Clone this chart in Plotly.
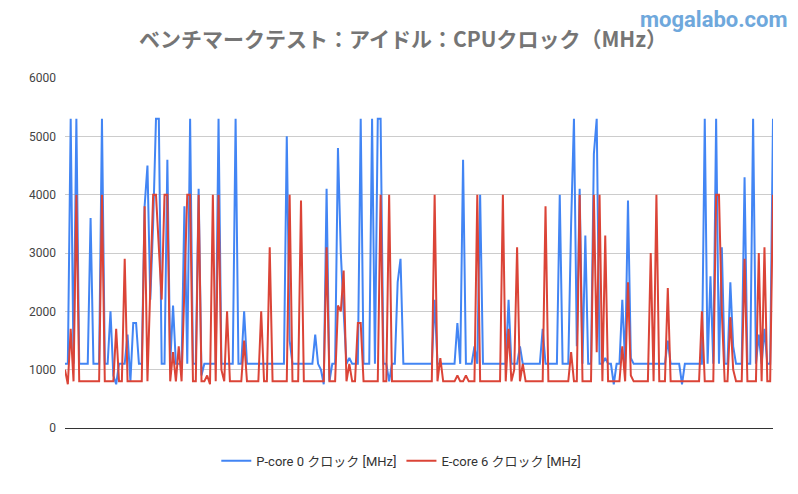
import plotly.graph_objects as go

# sample index (x axis, no labels)
samples = list(range(250))

p_core0 = [
    1100, 1100, 5300, 1100, 5300, 1100, 1100, 1100, 1100, 3600,
    1100, 1100, 1100, 5300, 1100, 1100, 2000, 900, 750, 1100,
    1100, 1100, 1600, 800, 1800, 1800, 1100, 1100, 3800, 4500,
    2200, 3500, 5300, 5300, 1100, 1100, 4600, 1100, 2100, 1100,
    1100, 1100, 3800, 1100, 5300, 1100, 1100, 4100, 900, 1100,
    1100, 1100, 1100, 1100, 5300, 1100, 1100, 1100, 1100, 1100,
    5300, 1100, 1100, 2000, 1100, 1100, 1100, 1100, 1100, 1100,
    1100, 1100, 1100, 1100, 1100, 1100, 1100, 1100, 5000, 1500,
    1100, 1100, 1100, 1100, 1100, 1100, 1100, 1100, 1600, 1100,
    1000, 750, 4100, 800, 1100, 1100, 4800, 3000, 2000, 1100,
    1200, 1100, 1100, 1100, 5300, 1100, 1100, 1100, 5300, 1100,
    5300, 5300, 1100, 1100, 800, 1100, 1100, 2500, 2900, 1100,
    1100, 1100, 1100, 1100, 1100, 1100, 1100, 1100, 1100, 1100,
    2200, 1100, 1100, 1100, 1100, 1100, 1100, 1100, 1800, 1100,
    4600, 1100, 1100, 1100, 1400, 1100, 4000, 1100, 1100, 1100,
    1100, 1100, 1100, 1100, 1100, 1100, 2200, 1100, 1100, 1100,
    1400, 1100, 1100, 1100, 1100, 1100, 1100, 1100, 1700, 1100,
    1100, 1100, 1100, 1100, 4000, 1100, 1100, 1100, 3500, 5300,
    1400, 4100, 1100, 3300, 1100, 1100, 4700, 5300, 1100, 1100,
    1200, 1100, 1100, 750, 1100, 1100, 2200, 1100, 3900, 1200,
    1100, 1100, 1100, 1100, 1100, 1100, 1100, 1100, 1100, 1100,
    1100, 1100, 1500, 1100, 1100, 1100, 1100, 750, 1100, 1100,
    1100, 1100, 1100, 1100, 1100, 5300, 1100, 2600, 1100, 5300,
    1100, 3100, 1100, 1100, 2500, 1400, 1100, 1100, 1100, 4300,
    1100, 1100, 5300, 1100, 1600, 1100, 1700, 1100, 1100, 5300,
]

e_core6 = [
    1000, 750, 1700, 800, 4000, 800, 800, 800, 800, 800,
    800, 800, 800, 4000, 800, 800, 800, 800, 1700, 800,
    800, 2900, 800, 800, 800, 800, 800, 800, 3800, 800,
    2400, 4000, 4000, 3000, 2200, 4000, 4000, 800, 1300, 800,
    1400, 800, 2400, 4000, 4000, 800, 800, 4000, 800, 800,
    900, 750, 4000, 800, 4000, 1000, 800, 2000, 800, 800,
    800, 800, 800, 1500, 800, 800, 800, 800, 800, 2000,
    800, 800, 3100, 800, 800, 800, 800, 800, 800, 4000,
    800, 800, 800, 3900, 800, 800, 800, 800, 800, 800,
    800, 800, 3100, 800, 800, 800, 2100, 2000, 2700, 800,
    1100, 800, 800, 1800, 1800, 800, 800, 800, 800, 800,
    800, 4000, 800, 800, 4000, 800, 800, 800, 800, 800,
    800, 800, 800, 800, 800, 800, 800, 800, 800, 800,
    4000, 800, 1200, 800, 800, 800, 800, 800, 900, 800,
    800, 900, 800, 800, 800, 4000, 800, 800, 800, 800,
    800, 800, 800, 800, 4000, 800, 1700, 800, 1000, 3100,
    800, 1100, 800, 800, 800, 800, 800, 800, 800, 3800,
    800, 800, 800, 800, 800, 800, 800, 800, 1300, 800,
    800, 4000, 800, 800, 800, 800, 4000, 1300, 4000, 800,
    3300, 800, 800, 800, 800, 800, 1400, 800, 2500, 900,
    800, 800, 800, 800, 800, 800, 3000, 800, 4000, 800,
    800, 800, 2400, 800, 800, 800, 800, 800, 800, 800,
    800, 800, 800, 800, 2000, 800, 800, 800, 800, 4000,
    4000, 2000, 800, 800, 1900, 1000, 800, 800, 800, 2900,
    800, 800, 800, 800, 3000, 800, 3100, 800, 800, 4000,
]

series_names = ["P-core 0 クロック [MHz]", "E-core 6 クロック [MHz]"]
y_ticks = [0, 1000, 2000, 3000, 4000, 5000, 6000]
title_text = "ベンチマークテスト：アイドル：CPUクロック（MHz）"

fig = go.Figure()
fig.add_trace(go.Scatter(x=samples, y=p_core0, mode="lines", name=series_names[0],
                         line=dict(color="#4285F4", width=2)))
fig.add_trace(go.Scatter(x=samples, y=e_core6, mode="lines", name=series_names[1],
                         line=dict(color="#DB4437", width=2)))

# page body has an 8px margin; figure is sized so the plot lands where the reference has it
fig.update_layout(
    width=790, height=486,
    margin=dict(l=57, r=25, t=70, b=66),
    paper_bgcolor="white", plot_bgcolor="white",
    font=dict(family="Roboto, 'Noto Sans CJK JP', sans-serif", size=12, color="#444444"),
    title=dict(text="<b>" + title_text + "</b>", x=0.5, xanchor="center", y=0.935, yanchor="middle",
               font=dict(family="'Noto Sans CJK JP', sans-serif", size=21, color="#757575")),
    showlegend=True,
    legend=dict(orientation="h", x=0.475, xanchor="center", y=-0.094, yanchor="middle",
                font=dict(size=13, color="#333333"), itemwidth=30),
    xaxis=dict(range=[0, len(samples) - 1], showticklabels=False, showgrid=False,
               zeroline=False, showline=True, linecolor="#333333", linewidth=1, ticks="",
               automargin=False),
    yaxis=dict(range=[0, 6000], tickvals=y_ticks, showgrid=True, gridcolor="#cccccc",
               zeroline=False, ticks="", tickfont=dict(size=12, color="#444444"),
               ticklabelstandoff=8, automargin=False),
    annotations=[dict(text="<b>mogalabo.com</b>", xref="paper", yref="paper", x=1.024, y=1.168,
                      xanchor="right", yanchor="middle", showarrow=False,
                      font=dict(family="Roboto, sans-serif", size=22, color="#6fa8dc"))],
)

fig.write_html("out.html")
